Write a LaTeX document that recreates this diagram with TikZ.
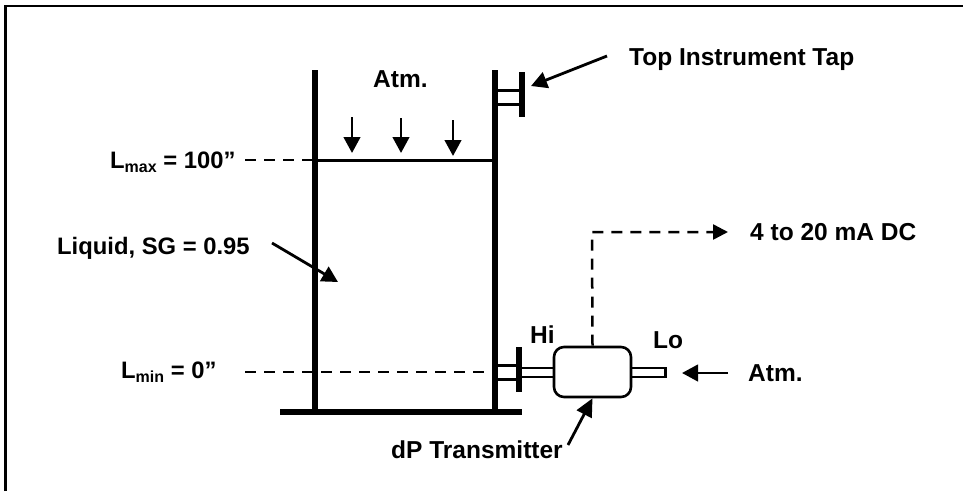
\documentclass[tikz,border=0pt]{standalone}
\usepackage{fontspec}
\setmainfont{Liberation Sans}[BoldFont={Liberation Sans Bold}]
\usetikzlibrary{arrows.meta}
\newcommand{\subtxt}[1]{\raisebox{-4.5pt}{\fontsize{16}{16}\selectfont #1}}
\tikzset{
  x=1pt,y=-1pt,
  lbl/.style={anchor=base west,inner sep=0pt,font=\fontsize{23.8}{26}\selectfont\bfseries},
  lblbig/.style={lbl,font=\fontsize{24.5}{26}\selectfont\bfseries},
  wall/.style={line width=6pt},
  thin wall/.style={line width=3pt},
  pointer/.style={line width=2.8pt,-{Triangle[length=16pt,width=16.5pt]}},
  leader/.style={line width=2.5pt,dash pattern=on 11pt off 8pt},
  txbox/.style={draw,line width=2.6pt,rounded corners=10pt,fill=white,minimum width=77pt,minimum height=50pt,inner sep=0pt},
  tube/.style={draw,line width=2.4pt,fill=white}
}
\begin{document}
\begin{tikzpicture}
\useasboundingbox (0,0) rectangle (963,491);
% frame
\draw[line width=2.6pt] (5.5,491) -- (5.5,6) -- (963,6);
% text
\node[lblbig] (atm1) at (373,87) {Atm.};
\node[lblbig] (toptap) at (629,65) {Top Instrument Tap};
\node[lbl] (lmax) at (110,168) {L\subtxt{max} = 100”};
\node[lbl] (liquid) at (57,254) {Liquid, SG = 0.95};
\node[lbl] (lmin) at (121,378) {L\subtxt{min} = 0”};
\node[lblbig] (out) at (750,240) {4 to 20 mA DC};
\node[lblbig] (hi) at (530,343) {Hi};
\node[lblbig] (lo) at (653,348) {Lo};
\node[lblbig] (atm2) at (748,381) {Atm.};
\node[lblbig] (dp) at (391,458) {dP Transmitter};
% tank
\draw[wall] (315,70) -- (315,412);
\draw[wall] (495,70) -- (495,412);
\draw[wall] (280,412) -- (522,412);
\draw[thin wall] (315,160) -- (495,160);
% top tap
\draw[wall] (522,72) -- (522,117);
\draw[thin wall] (495,90) -- (522,90);
\draw[thin wall] (495,104) -- (522,104);
% bottom tap
\draw[thin wall] (495,365) -- (519,365);
\draw[thin wall] (495,379) -- (519,379);
% tubes
\draw[tube] (519,368) rectangle (556,377);
\draw[tube] (629,368) rectangle (665.5,377);
\draw[wall] (519,347) -- (519,392);
% transmitter
\node[txbox] (tx) at (592.5,372) {};
% level leaders
\coordinate (lmaxa) at (245,160);
\coordinate (lmaxb) at (314,160);
\coordinate (lmina) at (245,372);
\coordinate (lminb) at (495,372);
\draw[leader] (lmaxa) -- (lmaxb);
\draw[leader] (lmina) -- (lminb);
% signal
\coordinate (corner) at (592,232);
\coordinate (sig) at (728,232);
\draw[leader,-{Triangle[length=15pt,width=15pt]}] (tx.north) -- (corner) -- (sig);
% pointers
\coordinate (a1a) at (352,117); \coordinate (a1b) at (352,153);
\coordinate (a2a) at (401,118); \coordinate (a2b) at (401,153);
\coordinate (a3a) at (453,120); \coordinate (a3b) at (453,156);
\draw[pointer] (a1a) -- (a1b);
\draw[pointer] (a2a) -- (a2b);
\draw[pointer] (a3a) -- (a3b);
\coordinate (topa) at (607,56); \coordinate (topb) at (531,86);
\draw[pointer] (topa) -- (topb);
\coordinate (liqa) at (272,243); \coordinate (liqb) at (338,282);
\draw[pointer] (liqa) -- (liqb);
\coordinate (loa) at (728,373); \coordinate (lob) at (682,373);
\draw[pointer] (loa) -- (lob);
\coordinate (dpa) at (568,445);
\draw[pointer,-{Triangle[length=18pt,width=16.5pt]}] (dpa) -- (tx.south);
\end{tikzpicture}
\end{document}
